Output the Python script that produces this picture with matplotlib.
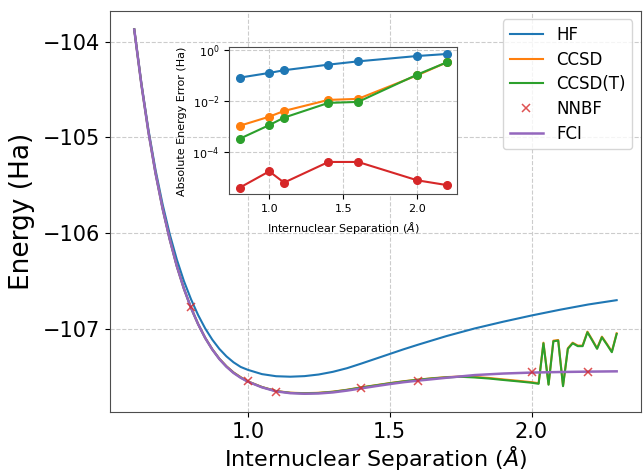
import matplotlib
matplotlib.use("Agg")
import matplotlib.pyplot as plt
from matplotlib.ticker import NullLocator, FixedLocator

# ---------------- data ----------------
# FCI curve
fci_x = [0.60, 0.625, 0.65, 0.675, 0.70, 0.725, 0.75, 0.775, 0.80, 0.825, 0.85, 0.875,
         0.90, 0.925, 0.95, 0.975, 1.00, 1.05, 1.10, 1.15, 1.20, 1.25, 1.30, 1.35,
         1.40, 1.45, 1.50, 1.55, 1.60, 1.70, 1.80, 1.90, 2.00, 2.10, 2.20, 2.30]
fci_e = [-103.875, -104.445, -104.945, -105.375, -105.745, -106.065, -106.345, -106.58,
         -106.78, -106.95, -107.095, -107.215, -107.315, -107.395, -107.46, -107.51,
         -107.55, -107.61, -107.652, -107.671, -107.677, -107.674, -107.663, -107.644,
         -107.621, -107.598, -107.576, -107.556, -107.54, -107.51, -107.482, -107.466,
         -107.456, -107.45, -107.446, -107.443]

# HF curve
hf_x = [0.60, 0.625, 0.65, 0.675, 0.70, 0.725, 0.75, 0.775, 0.80, 0.825, 0.85, 0.875,
        0.90, 0.925, 0.95, 0.975, 1.00, 1.05, 1.10, 1.15, 1.20, 1.25, 1.30, 1.35,
        1.40, 1.45, 1.50, 1.55, 1.60, 1.70, 1.80, 1.90, 2.00, 2.10, 2.20, 2.30]
hf_e = [-103.87, -104.43, -104.92, -105.34, -105.70, -106.01, -106.275, -106.50,
        -106.69, -106.855, -106.995, -107.112, -107.209, -107.287, -107.349, -107.397,
        -107.427, -107.472, -107.494, -107.499, -107.493, -107.476, -107.448, -107.41,
        -107.362, -107.312, -107.262, -107.212, -107.165, -107.075, -106.995, -106.925,
        -106.86, -106.80, -106.745, -106.70]

# coupled-cluster curves
cc_x = [0.60, 0.625, 0.65, 0.675, 0.70, 0.725, 0.75, 0.775, 0.80, 0.825, 0.85, 0.875,
        0.90, 0.925, 0.95, 0.975, 1.00, 1.05, 1.10, 1.15, 1.20, 1.25, 1.30, 1.35,
        1.40, 1.45, 1.50, 1.55, 1.60, 1.65, 1.70, 1.75, 1.80, 1.85, 1.90, 1.95, 2.00,
        2.025, 2.042, 2.060, 2.077, 2.094, 2.111, 2.128, 2.145, 2.163, 2.180, 2.197,
        2.214, 2.231, 2.248, 2.266, 2.283, 2.300]
ccsd_e = [-103.874, -104.444, -104.944, -105.374, -105.744, -106.064, -106.344, -106.579,
          -106.779, -106.948, -107.093, -107.212, -107.311, -107.39, -107.454, -107.503,
          -107.547, -107.606, -107.648, -107.666, -107.671, -107.667, -107.655, -107.635,
          -107.61, -107.588, -107.566, -107.546, -107.53, -107.515, -107.503, -107.497,
          -107.502, -107.512, -107.527, -107.541, -107.556,
          -107.567, -107.144, -107.577, -107.123, -107.116, -107.592, -107.202, -107.144,
          -107.174, -107.174, -107.029, -107.114, -107.202, -107.081, -107.159, -107.237,
          -107.046]
ccsdt_e = [-103.875, -104.445, -104.945, -105.375, -105.745, -106.065, -106.345, -106.58,
           -106.78, -106.95, -107.094, -107.214, -107.313, -107.393, -107.457, -107.507,
           -107.549, -107.608, -107.65, -107.668, -107.673, -107.669, -107.657, -107.637,
           -107.612, -107.59, -107.568, -107.548, -107.531, -107.517, -107.506, -107.500,
           -107.507, -107.518, -107.533, -107.547, -107.562,
           -107.573, -107.150, -107.583, -107.129, -107.122, -107.598, -107.208, -107.150,
           -107.180, -107.180, -107.035, -107.120, -107.208, -107.087, -107.165, -107.243,
           -107.052]

# NNBF points
nnbf_x = [0.8, 1.0, 1.1, 1.4, 1.6, 2.0, 2.2]
nnbf_e = [-106.775, -107.549, -107.655, -107.62, -107.539, -107.455, -107.445]

# absolute errors (inset)
err_x = [0.8, 1.0, 1.1, 1.4, 1.6, 2.0, 2.2]
err_hf = [0.085, 0.13, 0.166, 0.275, 0.37, 0.60, 0.72]
err_ccsd = [1.1e-3, 2.5e-3, 4.2e-3, 1.14e-2, 1.25e-2, 0.105, 0.34]
err_ccsdt = [3.4e-4, 1.17e-3, 2.3e-3, 8.7e-3, 9.5e-3, 0.112, 0.34]
err_nnbf = [4.1e-6, 1.8e-5, 6.5e-6, 4.2e-5, 4.2e-5, 8.0e-6, 5.2e-6]

main_xticks = [1.0, 1.5, 2.0]
main_yticks = [-107, -106, -105, -104]
inset_yticks = [1e-4, 1e-2, 1e0]

# ---------------- plot ----------------
C_HF, C_CCSD, C_CCSDT, C_NNBF, C_FCI = "tab:blue", "tab:orange", "tab:green", "tab:red", "tab:purple"

fig = plt.figure(figsize=(6.44, 4.73), dpi=100)
ax = fig.add_axes([0.171, 0.129, 0.824, 0.848])

l_hf, = ax.plot(hf_x, hf_e, color=C_HF, lw=1.5, label="HF")
l_ccsd, = ax.plot(cc_x, ccsd_e, color=C_CCSD, lw=1.5, label="CCSD")
l_ccsdt, = ax.plot(cc_x, ccsdt_e, color=C_CCSDT, lw=1.5, label="CCSD(T)")
l_fci, = ax.plot(fci_x, fci_e, color=C_FCI, lw=1.8, label="FCI", zorder=2.5)
l_nnbf, = ax.plot(nnbf_x, nnbf_e, ls="none", marker="x", ms=6, mew=1.1,
                  color=C_NNBF, alpha=0.8, label="NNBF", zorder=3)

ax.xaxis.set_major_locator(FixedLocator(main_xticks))
ax.yaxis.set_major_locator(FixedLocator(main_yticks))
ax.grid(True, ls="--", color="0.8", lw=0.8)
ax.set_xlabel(r"Internuclear Separation ($\AA$)", fontsize=16, labelpad=2)
ax.set_ylabel("Energy (Ha)", fontsize=19, labelpad=6)
ax.tick_params(labelsize=15)
for s in ax.spines.values():
    s.set_color("0.3")
ax.legend(handles=[l_hf, l_ccsd, l_ccsdt, l_nnbf, l_fci], loc="upper right",
          fontsize=12, labelspacing=0.4)

# inset
ins = fig.add_axes([0.356, 0.589, 0.354, 0.311])
ins.plot(err_x, err_hf, "o-", color=C_HF, ms=5.5)
ins.plot(err_x, err_ccsd, "o-", color=C_CCSD, ms=5.5)
ins.plot(err_x, err_ccsdt, "o-", color=C_CCSDT, ms=5.5)
ins.plot(err_x, err_nnbf, "o-", color=C_NNBF, ms=5.5)
ins.set_yscale("log")
ins.yaxis.set_major_locator(FixedLocator(inset_yticks))
ins.yaxis.set_minor_locator(NullLocator())
ins.grid(True, ls="--", color="0.8", lw=0.8)
ins.set_xlabel(r"Internuclear Separation ($\AA$)", fontsize=8)
ins.set_ylabel("Absolute Energy Error (Ha)", fontsize=8)
ins.tick_params(labelsize=8)
for s in ins.spines.values():
    s.set_color("0.3")

fig.savefig("out.png", dpi=100)
